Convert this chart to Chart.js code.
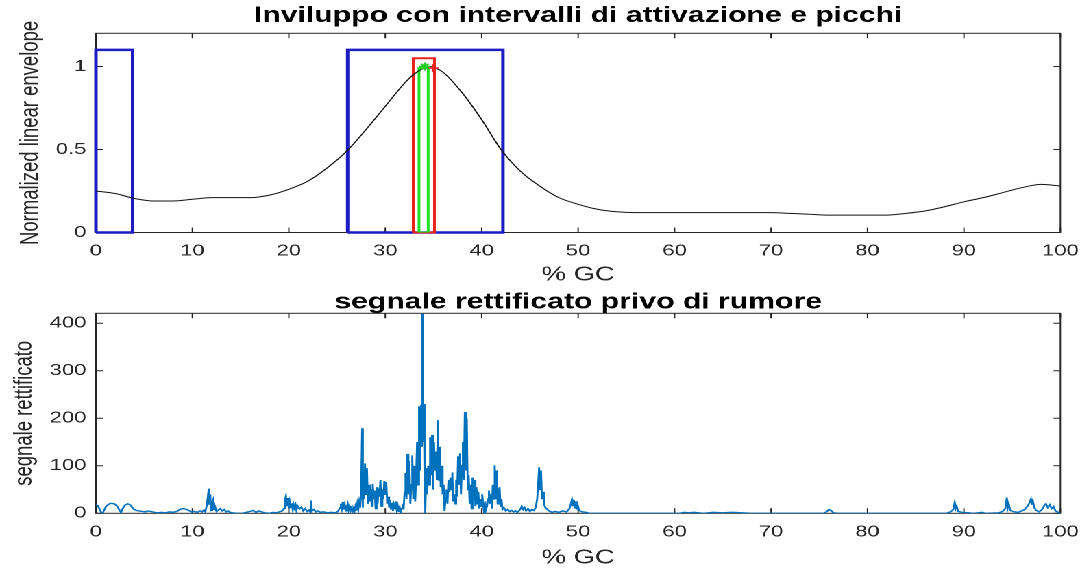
<!DOCTYPE html>
<html>
<head>
<meta charset="utf-8">
<script src="https://cdn.jsdelivr.net/npm/chart.js@4"></script>
<style>
  html, body { margin: 0; padding: 0; background: #fff; overflow: hidden; }
  /* the reference figure is stretched horizontally, so draw narrow and stretch */
  #figure { position: absolute; left: 0; top: 0; width: 796px; height: 568px; transform: scaleX(1.3706); transform-origin: 0 0; }
  #topWrap { position: absolute; left: 0; top: 0; width: 796px; height: 290px; }
  #botWrap { position: absolute; left: 0; top: 290px; width: 796px; height: 278px; }
</style>
</head>
<body>
<div id="figure">
  <div id="topWrap"><canvas id="envChart" width="796" height="290"></canvas></div>
  <div id="botWrap"><canvas id="sigChart" width="796" height="278"></canvas></div>
</div>
<script>
// ---- data ----
const xTicks = [0, 10, 20, 30, 40, 50, 60, 70, 80, 90, 100];
const envYTicks = [0, 0.5, 1];
const sigYTicks = [0, 100, 200, 300, 400];

// normalized linear envelope
const envX = [0, 2, 4, 6, 8, 10, 12, 14, 16, 18, 20, 22, 24, 26, 28, 30, 32, 33, 34, 34.6, 35, 36, 38, 40, 42, 44, 46, 48, 50,
  52, 54, 56, 58, 60, 62, 64, 66, 68, 70, 72, 74, 76, 78, 80, 82, 84, 86, 88, 90, 92, 94, 96, 98, 100];
const envY = [0.25, 0.235, 0.205, 0.19, 0.19, 0.2, 0.21, 0.21, 0.21, 0.225, 0.26, 0.31, 0.39, 0.49, 0.62, 0.76, 0.9, 0.955, 0.99, 1.0, 0.995, 0.965, 0.84, 0.68, 0.5, 0.37, 0.28, 0.21, 0.17,
  0.14, 0.125, 0.12, 0.12, 0.12, 0.12, 0.12, 0.12, 0.12, 0.12, 0.115, 0.11, 0.105, 0.105, 0.105, 0.105, 0.115, 0.13, 0.155, 0.185, 0.21, 0.24, 0.27, 0.29, 0.28];

// activation intervals (blue), peak interval (red), peak band (green)
const activeOn = [0, 26.1];
const activeOff = [3.8, 42.2];
const activeTop = 1.1;
const peakInterval = [32.9, 35.1];
const peakTop = 1.05;
const peakBand = [33.5, 34.45];
const peakBandTop = 0.99;
const greenPeak = [34.1, 1.0];
const redPeak = [35.0, 0.99];

// rectified signal [ %GC, value ]
const signalPts = [
  [0,18],[0.2,16],[0.4,8],[0.55,2],[0.7,0],[0.85,7],[1.1,16],[1.5,21],[1.9,20],[2.2,15],[2.45,6],[2.6,2],[2.75,9],[3.0,17],[3.3,20],[3.6,17],[3.9,9],[4.2,6],[4.5,5],[4.8,4],[5.1,3],[5.4,5],[5.7,4],[6.0,2],[6.4,1],[6.8,2],[7.2,1],[7.6,3],[8.0,2],[8.4,4],[8.7,8],[9.0,10],[9.3,9],[9.6,6],[9.9,3],[10.2,4],[10.5,2],[10.8,5],
  [11.0,3],[11.2,7],[11.35,3],[11.5,18],[11.6,34],[11.7,52],[11.75,18],[11.85,40],[11.95,6],[12.05,22],[12.15,28],[12.25,8],[12.35,14],[12.5,4],[12.7,7],[12.9,10],[13.1,5],[13.3,8],[13.5,3],[13.7,5],[13.9,2],[14.2,1],[14.6,0],[15.2,0],
  [15.6,2],[16.0,4],[16.3,6],[16.6,2],[16.9,5],[17.2,3],[17.5,1],[18.0,0],[18.4,2],[18.7,1],[19.0,3],[19.3,5],[19.5,10],[19.6,28],[19.7,36],[19.8,15],[19.9,32],[20.0,10],[20.1,24],[20.2,12],[20.3,21],[20.4,9],[20.5,19],[20.6,13],[20.7,18],[20.8,7],[20.9,16],[21.1,9],[21.3,13],[21.5,5],[21.7,10],[21.9,4],[22.1,7],[22.2,3],[22.3,27],[22.4,5],[22.6,8],[22.8,3],[23.0,5],[23.3,2],[23.6,3],[24.0,1],[24.4,2],[24.8,1],
  [25.1,4],[25.3,12],[25.4,20],[25.5,10],[25.6,24],[25.7,8],[25.8,18],[25.9,5],[26.0,14],[26.1,20],[26.2,7],[26.3,15],[26.4,5],[26.5,10],[26.6,3],[26.7,9],[26.8,4],[26.9,14],[27.0,6],[27.1,20],[27.2,8],[27.3,24],[27.4,12],[27.5,45],
  [27.6,179],[27.65,12],[27.7,85],[27.8,30],[27.9,105],[28.0,40],[28.1,95],[28.2,20],[28.3,60],[28.4,25],[28.5,50],[28.6,15],[28.7,62],[28.8,30],[28.9,48],[29.0,10],[29.1,55],[29.2,20],[29.3,45],[29.4,35],[29.5,70],[29.6,15],[29.7,50],[29.8,30],[29.9,68],[30.0,40],[30.1,66],[30.2,20],[30.3,35],[30.4,12],[30.5,28],[30.6,8],[30.7,22],[30.8,5],[30.9,18],[31.0,10],[31.1,25],[31.2,6],[31.3,15],[31.4,3],[31.5,12],[31.6,2],[31.7,10],[31.8,20],[31.9,8],
  [32.0,45],[32.1,85],[32.2,30],[32.3,125],[32.4,40],[32.5,110],[32.6,20],[32.7,60],[32.8,122],[32.9,30],[33.0,100],[33.1,25],[33.2,75],[33.3,150],[33.4,60],[33.5,225],[33.6,90],[33.7,228],[33.8,140],[33.85,420],[33.9,150],[34.0,230],[34.05,60],[34.1,150],[34.15,0],
  [34.25,95],[34.35,40],[34.45,100],[34.55,60],[34.65,160],[34.75,80],[34.85,165],[34.95,50],[35.05,150],[35.15,90],[35.25,130],[35.35,70],[35.45,196],[35.55,70],[35.65,140],[35.75,55],[35.85,100],[35.95,40],[36.05,60],[36.15,5],[36.25,30],[36.35,50],[36.45,20],[36.55,70],[36.65,45],[36.75,75],[36.85,50],[36.95,86],
  [37.05,25],[37.15,40],[37.25,20],[37.35,70],[37.45,35],[37.55,120],[37.65,60],[37.75,126],[37.85,40],[37.95,100],[38.05,150],[38.15,70],[38.25,213],[38.35,90],[38.45,200],[38.55,50],[38.65,80],[38.75,20],[38.85,60],[38.95,10],[39.05,75],[39.15,30],[39.25,70],[39.35,15],[39.45,55],[39.55,20],[39.65,45],[39.75,10],[39.85,30],[39.95,15],
  [40.05,40],[40.15,20],[40.25,0],[40.35,25],[40.45,8],[40.55,15],[40.65,30],[40.75,48],[40.85,20],[40.95,40],[41.05,10],[41.15,60],[41.25,30],[41.35,101],[41.45,30],[41.55,90],[41.65,20],[41.75,45],[41.85,55],[41.95,15],[42.05,30],
  [42.15,8],[42.3,12],[42.5,5],[42.7,8],[42.9,4],[43.1,6],[43.3,3],[43.5,5],[43.7,2],[43.9,6],[44.05,10],[44.15,15],[44.3,8],[44.45,12],[44.6,5],[44.8,10],[45.0,4],[45.2,8],[45.4,6],[45.6,12],[45.75,30],[45.85,60],[45.95,97],[46.05,50],[46.15,90],[46.25,30],[46.35,45],[46.45,20],[46.6,12],[46.8,8],[47.0,5],[47.3,2],[47.6,4],[48.0,2],[48.4,5],[48.8,3],
  [49.1,10],[49.25,20],[49.35,29],[49.45,15],[49.55,28],[49.65,10],[49.75,25],[49.85,8],[49.95,18],[50.1,6],[50.4,3],[50.8,2],[51.2,0],
  [55.0,0],[60.5,0],[61.0,2],[61.5,1],[62.0,2],[63.0,0],[64.0,2],[65.0,1],[66.0,2],[67.0,1],[68.0,0],[75.5,0],[75.8,4],[76.0,8],[76.2,6],[76.5,1],[77.0,0],
  [88.2,0],[88.6,3],[88.9,8],[89.05,23],[89.15,10],[89.25,15],[89.4,4],[89.8,2],[90.5,1],[91.0,0],[91.9,2],[92.2,0],[93.6,1],[94.0,4],[94.3,10],[94.45,33],[94.55,12],[94.65,20],[94.8,6],[95.2,3],[95.6,2],
  [96.0,5],[96.3,8],[96.6,15],[96.8,22],[96.95,30],[97.05,18],[97.15,26],[97.3,12],[97.5,6],[97.8,3],[98.1,8],[98.3,15],[98.5,20],[98.7,12],[98.9,18],[99.1,10],[99.3,14],[99.5,5],[99.8,2],[100,0]
];

// ---- helpers ----
Chart.defaults.font.family = "'Liberation Sans', Arial, sans-serif";
const axisColor = '#262626';

function rect(x0, x1, top) {
  return [{x: x0, y: 0}, {x: x0, y: top}, {x: x1, y: top}, {x: x1, y: 0}, {x: x0, y: 0}];
}

// box with inward ticks, like a MATLAB axes
const matlabAxes = {
  id: 'matlabAxes',
  beforeDatasetsDraw(chart) {
    const {ctx, chartArea: a, scales: {x, y}} = chart;
    ctx.save();
    ctx.strokeStyle = axisColor;
    ctx.lineWidth = 1;
    ctx.strokeRect(a.left, a.top, a.right - a.left, a.bottom - a.top);
    ctx.beginPath();
    x.ticks.forEach(t => {
      const px = x.getPixelForValue(t.value);
      ctx.moveTo(px, a.bottom); ctx.lineTo(px, a.bottom - 5);
      ctx.moveTo(px, a.top); ctx.lineTo(px, a.top + 5);
    });
    y.ticks.forEach(t => {
      const py = y.getPixelForValue(t.value);
      ctx.moveTo(a.left, py); ctx.lineTo(a.left + 5, py);
      ctx.moveTo(a.right, py); ctx.lineTo(a.right - 5, py);
    });
    ctx.stroke();
    ctx.restore();
  }
};

function xAxis(height, tickPad, titlePad) {
  return {
    type: 'linear', min: 0, max: 100,
    afterBuildTicks: s => { s.ticks = xTicks.map(v => ({value: v})); },
    afterFit: s => { s.height = height; },
    grid: {display: false, drawTicks: false},
    border: {display: false},
    ticks: {color: axisColor, font: {size: 16}, padding: tickPad, maxRotation: 0, autoSkip: false, callback: v => String(v)},
    title: {display: true, text: '% GC', color: axisColor, font: {size: 20, lineHeight: 1}, padding: {top: 0, bottom: titlePad}}
  };
}

function yAxis(max, ticks, label, labelPad) {
  return {
    type: 'linear', min: 0, max: max,
    afterBuildTicks: s => { s.ticks = ticks.map(v => ({value: v})); },
    afterFit: s => { s.width = 70; },
    grid: {display: false, drawTicks: false},
    border: {display: false},
    ticks: {color: axisColor, font: {size: 16}, padding: 7, autoSkip: false, callback: v => String(v)},
    title: {display: true, text: label, color: axisColor, font: {size: 18.5, lineHeight: 1}, padding: {top: labelPad, bottom: 0}}
  };
}

// titles sit over the axes only, as in MATLAB
function titleOpts(text, top, bottom) {
  return {display: true, fullSize: false, text: text, color: '#000', font: {size: 22, weight: 'bold', lineHeight: 1}, padding: {top: top, bottom: bottom}};
}

// ---- top: envelope with activation intervals and peaks ----
const envData = envX.map((x, i) => ({x: x, y: envY[i]}));
const blueSets = activeOn.map((on, i) => ({
  data: rect(on, activeOff[i], activeTop), borderColor: '#1c1cc0', borderWidth: 2.5,
  pointRadius: 0, fill: false, tension: 0, clip: false, order: 3
}));

new Chart(document.getElementById('envChart'), {
  type: 'line',
  data: {
    datasets: [
      {data: [{x: greenPeak[0], y: greenPeak[1]}], showLine: false, pointStyle: 'star', pointRadius: 4, borderColor: '#22cc22', borderWidth: 1.5, order: 0},
      {data: [{x: redPeak[0], y: redPeak[1]}], showLine: false, pointStyle: 'cross', pointRadius: 4, borderColor: '#ee2222', borderWidth: 1.5, order: 0},
      {data: envData, borderColor: '#111', borderWidth: 1, pointRadius: 0, cubicInterpolationMode: 'monotone', order: 1},
      {data: rect(peakBand[0], peakBand[1], peakBandTop), borderColor: '#22e022', backgroundColor: 'rgba(160,240,160,0.5)', fill: true, borderWidth: 2, pointRadius: 0, tension: 0, order: 2},
      {data: rect(peakInterval[0], peakInterval[1], peakTop), borderColor: '#e8231e', borderWidth: 2, pointRadius: 0, tension: 0, clip: false, order: 2},
      ...blueSets
    ]
  },
  options: {
    responsive: false,
    devicePixelRatio: 2,
    animation: false,
    layout: {padding: {left: 0, right: 21, top: 0, bottom: 0}},
    plugins: {
      title: titleOpts('Inviluppo con intervalli di attivazione e picchi', 5, 6.3),
      legend: {display: false},
      tooltip: {enabled: false}
    },
    scales: {
      x: xAxis(57.5, 9, 5),
      y: yAxis(1.2, envYTicks, 'Normalized linear envelope', 13)
    }
  },
  plugins: [matlabAxes]
});

// ---- bottom: rectified signal ----
new Chart(document.getElementById('sigChart'), {
  type: 'line',
  data: {
    datasets: [{
      data: signalPts.map(p => ({x: p[0], y: p[1]})),
      borderColor: '#0072bd', borderWidth: 1.4, pointRadius: 0, tension: 0
    }]
  },
  options: {
    responsive: false,
    devicePixelRatio: 2,
    animation: false,
    layout: {padding: {left: 0, right: 21, top: 0, bottom: 0}},
    plugins: {
      title: titleOpts('segnale rettificato privo di rumore', 1.3, 0),
      legend: {display: false},
      tooltip: {enabled: false}
    },
    scales: {
      x: xAxis(54.7, 9, 0),
      y: yAxis(421, sigYTicks, 'segnale rettificato', 8.5)
    }
  },
  plugins: [matlabAxes]
});
</script>
</body>
</html>
